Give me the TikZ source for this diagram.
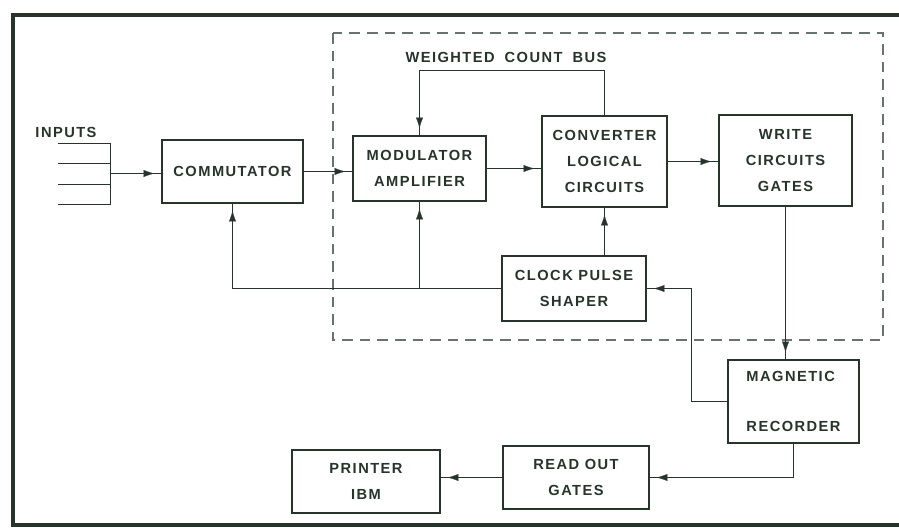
\documentclass[tikz,border=0pt]{standalone}
\usepackage{fontspec}
\setmainfont[LetterSpace=10]{Liberation Sans}
\usepackage{xcolor}
\usetikzlibrary{arrows.meta}
\definecolor{ink}{RGB}{38,52,44}
\definecolor{dashgray}{RGB}{105,115,110}

\begin{document}
\begin{tikzpicture}[
    x=0.03cm, y=-0.03cm,
    every node/.style={font=\fontsize{12.5}{22}\selectfont\bfseries, text=ink},
    blk/.style={rectangle, draw=ink, line width=1.5pt, align=center, inner sep=0pt},
    wire/.style={draw=ink, line width=0.9pt},
    flow/.style={wire, postaction={draw=ink, line width=0.1pt,
        -{Latex[length=9pt,width=6pt]}, shorten >=6pt}},
  ]
    \useasboundingbox (0,0) rectangle (899,528);

    % frame and dashed unit
    \draw[ink, line width=3pt] (899,15) -- (13,15) -- (13,525) -- (899,525);
    \draw[dashgray, line width=1pt, dash pattern=on 9pt off 6pt] (333,33) rectangle (883,340);

    % blocks
    \node[blk, minimum width=4.23cm, minimum height=1.89cm] (comm)    at (232.5,171.5) {COMMUTATOR};
    \node[blk, minimum width=3.99cm, minimum height=1.95cm] (modamp)  at (419.5,168.5) {MODULATOR\\AMPLIFIER};
    \node[blk, minimum width=3.75cm, minimum height=2.73cm] (conv)    at (604.5,161.5) {CONVERTER\\LOGICAL\\CIRCUITS};
    \node[blk, minimum width=3.99cm, minimum height=2.73cm] (write)   at (785.5,160.5) {WRITE\\CIRCUITS\\GATES};
    \node[blk, minimum width=4.32cm, minimum height=1.95cm] (clock)   at (574,288.5)   {CLOCK PULSE\\SHAPER};
    \node[blk, minimum width=3.93cm, minimum height=2.49cm, align=left] (magrec) at (793.5,401.5) {MAGNETIC\\[20pt]RECORDER};
    \node[blk, minimum width=4.38cm, minimum height=1.89cm] (readout) at (576,477.5)   {READ OUT\\GATES};
    \node[blk, minimum width=4.44cm, minimum height=1.89cm] (printer) at (366,481.5)   {PRINTER\\IBM};

    % labels
    \node (inputs) at (66,132) {INPUTS};
    \coordinate (bus) at (500,70.5);
    \node (buslbl) at (506,57) {WEIGHTED\hspace{0.3cm}COUNT\hspace{0.3cm}BUS};

    % input lines
    \coordinate (inbar) at (110.5,173.5);
    \foreach \y [count=\i] in {143.5,163.5,184.5,204.5}
      \coordinate (in\i) at (58,\y);
    \foreach \i in {1,...,4}
      \draw[wire] (in\i) -- (in\i -| inbar);
    \draw[wire] (in1 -| inbar) -- (in4 -| inbar);
    \draw[flow] (inbar) -- (inbar -| comm.west);

    % signal chain
    \draw[flow] (comm.east)   -- (comm.east -| modamp.west);
    \draw[flow] (modamp.east) -- (modamp.east -| conv.west);
    \draw[flow] (conv.east)   -- (conv.east -| write.west);
    \draw[flow] (write.south) -- (write.south |- magrec.north);
    \draw[flow] (conv.north)  -- (conv.north |- bus) -| (modamp.north);

    % clock distribution
    \draw[flow] (clock.west) -| (comm.south);
    \draw[flow] (clock.west -| modamp.south) -- (modamp.south);
    \draw[flow] (clock.north -| conv.south) -- (conv.south);
    \coordinate (loop) at (691.5,350);
    \draw[flow] (magrec.west) -| (loop) |- (clock.east);

    % read out
    \draw[flow] (magrec.south) |- (readout.east);
    \draw[flow] (readout.west) -- (readout.west -| printer.east);
\end{tikzpicture}
\end{document}
